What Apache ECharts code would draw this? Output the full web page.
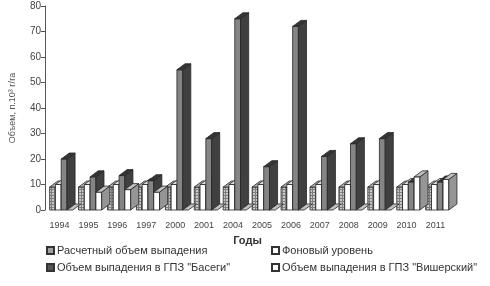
<!DOCTYPE html>
<html><head><meta charset="utf-8">
<script src="https://cdn.jsdelivr.net/npm/echarts@6/dist/echarts.min.js"></script>
<style>html,body{margin:0;padding:0;background:#fff}#c{width:490px;height:286px}</style>
</head><body><div id="c"></div>
<script>
const years = ['1994','1995','1996','1997','2000','2001','2004','2005','2006','2007','2008','2009','2010','2011'];
const seriesNames = ['Расчетный объем выпадения','Фоновый уровень','Объем выпадения в ГПЗ "Басеги"','Объем выпадения в ГПЗ "Вишерский"'];
const raschetny = [9, 9, 9, 9, 9, 9, 9, 9, 9, 9, 9, 9, 9, 9];
const fonovy =    [10,10,10,10,10,10,10,10,10,10,10,10,10,10];
const basegi =    [20,13,13.5,11.5,55,28,75,17,72,21,26,28,11,11];
const vishersky = [0, 7, 8, 7, 0, 0, 0, 0, 0, 0, 0, 0, 13, 12];
const yTicks = [0,10,20,30,40,50,60,70,80];

function makePattern(bg, fg) {
  const cv = document.createElement('canvas');
  cv.width = 3; cv.height = 3;
  const ctx = cv.getContext('2d');
  ctx.fillStyle = bg; ctx.fillRect(0,0,3,3);
  ctx.fillStyle = fg; ctx.fillRect(0,0,3,1); ctx.fillRect(0,0,1,3);
  return {image: cv, repeat: 'repeat'};
}
const patFront = makePattern('#c8c8c8', '#7e7e7e');
const patSide = makePattern('#9a9a9a', '#5e5e5e');

const styles = [
  {front: patFront, side: patSide, top: '#b0b0b0', legend: '#a0a0a0'},
  {front: '#ffffff', side: '#c4c4c4', top: '#e2e2e2', legend: '#ffffff'},
  {front: '#858585', side: '#404040', top: '#353535', legend: '#555555'},
  {front: '#ffffff', side: '#959595', top: '#c0c0c0', legend: '#ffffff'}
];

function renderItem(params, api) {
  const si = params.seriesIndex;
  const cat = api.value(0), v = api.value(1);
  const base = api.coord([cat, 0]);
  const top = api.coord([cat, v]);
  const band = api.size([1, 0])[0];
  const bw = band * 0.2;
  const dx = band * 0.28;
  const dy = 6;
  const x0 = base[0] - band * 0.34 + si * bw;
  const yb = base[1], yt = top[1];
  const st = styles[si];
  const stroke = {stroke: '#262626', lineWidth: 0.8};
  const children = [];
  if (yb - yt > 0.5) {
    children.push({type: 'rect', shape: {x: x0, y: yt, width: bw, height: yb - yt}, style: Object.assign({fill: st.front}, stroke)});
    children.push({type: 'polygon', shape: {points: [[x0 + bw, yb], [x0 + bw + dx, yb - dy], [x0 + bw + dx, yt - dy], [x0 + bw, yt]]}, style: Object.assign({fill: st.side}, stroke)});
  }
  children.push({type: 'polygon', shape: {points: [[x0, yt], [x0 + dx, yt - dy], [x0 + bw + dx, yt - dy], [x0 + bw, yt]]}, style: Object.assign({fill: st.top}, stroke)});
  return {type: 'group', children: children};
}

const allData = [raschetny, fonovy, basegi, vishersky];
const series = allData.map((arr, si) => ({
  name: seriesNames[si],
  type: 'custom',
  renderItem: renderItem,
  clip: false,
  itemStyle: {color: styles[si].legend, borderColor: '#333', borderWidth: 1},
  encode: {x: 0, y: 1},
  data: arr.map((v, i) => [i, v])
}));

const font = 'Liberation Sans, Arial, sans-serif';
const chart = echarts.init(document.getElementById('c'), null, {renderer: 'canvas'});
chart.setOption({
  animation: false,
  backgroundColor: '#fff',
  textStyle: {fontFamily: font},
  grid: {left: 41, top: 6, width: 409, height: 204},
  xAxis: {
    type: 'category', data: years,
    axisLine: {show: false}, axisTick: {show: false},
    axisLabel: {color: '#444', fontSize: 9, margin: 11, interval: 0, fontFamily: font},
    name: 'Годы', nameLocation: 'middle', nameGap: 25,
    nameTextStyle: {color: '#333', fontSize: 11, fontWeight: 'bold', fontFamily: font}
  },
  yAxis: {
    type: 'value', min: yTicks[0], max: yTicks[yTicks.length - 1], interval: 10,
    axisLine: {show: true, lineStyle: {color: '#555', width: 1}},
    axisTick: {show: true, length: 4, lineStyle: {color: '#555'}},
    splitLine: {show: false},
    axisLabel: {color: '#444', fontSize: 10, margin: 4, fontFamily: font},
    name: 'Объем, п.10³ г/га', nameLocation: 'middle', nameGap: 28, nameRotate: 90,
    nameTextStyle: {color: '#555', fontSize: 9, fontFamily: font}
  },
  legend: [
    {data: [seriesNames[0], seriesNames[2]], orient: 'vertical', left: 41, top: 240, itemWidth: 7, itemHeight: 7, itemGap: 6, icon: 'rect',
     textStyle: {fontSize: 11, color: '#333', fontFamily: font, padding: [0, 0, 0, -2]}},
    {data: [seriesNames[1], seriesNames[3]], orient: 'vertical', left: 266, top: 240, itemWidth: 7, itemHeight: 7, itemGap: 6, icon: 'rect',
     textStyle: {fontSize: 11, color: '#333', fontFamily: font, padding: [0, 0, 0, -2]}}
  ],
  series: series
});
</script></body></html>
